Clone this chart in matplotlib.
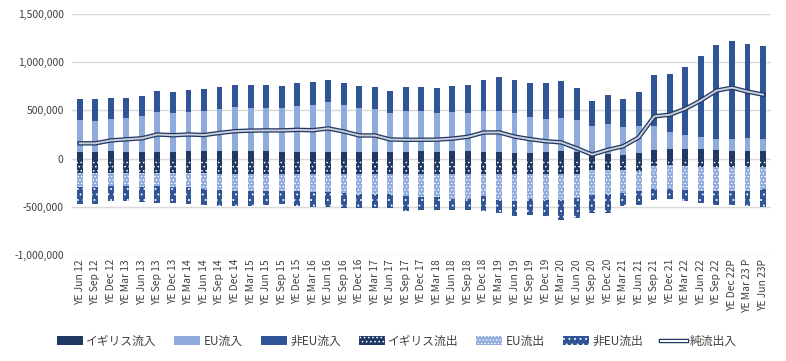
import numpy as np
import matplotlib as mpl
mpl.use("agg")
import matplotlib.pyplot as plt
from matplotlib.lines import Line2D
from matplotlib.patches import Patch
from matplotlib.ticker import FuncFormatter

plt.rcParams['font.family'] = ['Noto Sans CJK JP', 'DejaVu Sans']
plt.rcParams['hatch.linewidth'] = 0.6

labels = []
for yr in range(12, 24):
    for q in ["Mar", "Jun", "Sep", "Dec"]:
        labels.append(f"YE {q} {yr}")
labels = labels[1:46]
labels[-3] = "YE Dec 22P"
labels[-2] = "YE Mar 23 P"
labels[-1] = "YE Jun 23P"

# thousands
uk_in = [70, 70, 80, 70, 70, 70, 70, 80, 80, 80, 80, 80, 80, 70, 70, 70, 70, 70, 70, 70,
         70, 70, 80, 70, 80, 80, 70, 70, 60, 60, 70, 80, 70, 48, 48, 38, 58, 89, 99, 99,
         99, 89, 79, 79, 79]
eu_in = [329, 319, 329, 350, 370, 411, 400, 401, 411, 432, 452, 450, 450, 450, 480, 490,
         512, 482, 450, 440, 400, 420, 413, 402, 403, 392, 423, 423, 412, 371, 340, 341,
         330, 289, 309, 288, 278, 247, 175, 144, 124, 113, 123, 133, 123]
noneu_in = [223, 233, 223, 212, 213, 224, 225, 234, 234, 234, 234, 236, 236, 236, 236, 230,
            233, 234, 236, 236, 235, 258, 245, 259, 269, 290, 321, 352, 342, 352, 373, 382,
            331, 257, 299, 289, 359, 534, 606, 709, 842, 976, 1017, 976, 966]
uk_out = [155] * 9 + [160] * 24 + [124, 123, 123, 134, 82, 72, 82, 92, 92, 92, 92, 92]
eu_out = [140, 140, 130, 130, 140, 130, 140, 140, 160, 165, 175, 177, 177, 177, 177, 187,
          187, 197, 207, 207, 207, 230, 240, 243, 255, 255, 233, 268, 278, 257, 268, 268,
          247, 252, 247, 230, 208, 230, 240, 240, 250, 250, 240, 240, 220]
noneu_out = [175, 175, 155, 155, 155, 175, 171, 175, 165, 165, 157, 151, 145, 135, 155, 156,
             158, 156, 148, 148, 151, 155, 135, 132, 123, 123, 155, 141, 162, 173, 172, 213,
             214, 193, 197, 144, 141, 120, 109, 120, 120, 141, 151, 161, 191]
net = [158, 158, 188, 200, 210, 250, 242, 250, 244, 266, 284, 290, 292, 292, 298, 294,
       313, 281, 240, 240, 198, 195, 195, 196, 207, 226, 270, 272, 228, 201, 180, 168,
       107, 41, 90, 128, 220, 438, 455, 517, 603, 705, 736, 695, 664]

c_uk = "#1f3864"
c_eu = "#8faadc"
c_non = "#2f5597"
h_uk, h_eu, h_non = "....", ".....", "..."

k = 1000
uk_in = np.array(uk_in) * k
eu_in = np.array(eu_in) * k
noneu_in = np.array(noneu_in) * k
uk_out = -np.array(uk_out) * k
eu_out = -np.array(eu_out) * k
noneu_out = -np.array(noneu_out) * k
net = np.array(net) * k

x = np.arange(len(labels))
w = 0.38

fig = plt.figure(figsize=(7.86, 3.61), dpi=100)
ax = fig.add_axes([0.0916, 0.294, 0.889, 0.667])

ax.bar(x, uk_in, w, color=c_uk, zorder=2)
ax.bar(x, eu_in, w, bottom=uk_in, color=c_eu, zorder=2)
ax.bar(x, noneu_in, w, bottom=uk_in + eu_in, color=c_non, zorder=2)
ax.bar(x, uk_out, w, color=c_uk, edgecolor="white", hatch=h_uk, linewidth=0, zorder=2)
ax.bar(x, eu_out, w, bottom=uk_out, color=c_eu, edgecolor="white", hatch=h_eu, linewidth=0, zorder=2)
ax.bar(x, noneu_out, w, bottom=uk_out + eu_out, color=c_non, edgecolor="white", hatch=h_non, linewidth=0, zorder=2)

ax.plot(x, net, color=c_uk, lw=3.2, zorder=3, solid_joinstyle="round")
ax.plot(x, net, color="#c9ced8", lw=1.4, zorder=4, solid_joinstyle="round")

ax.set_xlim(-0.5, len(labels) - 0.5)
ax.set_ylim(-1000000, 1500000)
ax.set_yticks(np.arange(-1000000, 1500001, 500000))
ax.yaxis.set_major_formatter(FuncFormatter(lambda v, p: f"{int(v):,}"))
ax.grid(axis="y", color="#d9d9d9", lw=1, zorder=0)
for s in ax.spines.values():
    s.set_visible(False)
ax.tick_params(length=0, labelsize=7.5, colors="#404040")
ax.tick_params(axis="y", pad=6)
ax.set_xticks(x)
ax.set_xticklabels(labels, rotation=90, fontsize=7.4)
ax.tick_params(axis="x", pad=3)

handles = [
    Patch(facecolor=c_uk),
    Patch(facecolor=c_eu),
    Patch(facecolor=c_non),
    Patch(facecolor=c_uk, edgecolor="white", hatch=h_uk, linewidth=0),
    Patch(facecolor=c_eu, edgecolor="white", hatch=h_eu, linewidth=0),
    Patch(facecolor=c_non, edgecolor="white", hatch=h_non, linewidth=0),
    (Line2D([], [], color=c_uk, lw=3.2), Line2D([], [], color="#ffffff", lw=1.4)),
]
names = ["イギリス流入", "EU流入", "非EU流入", "イギリス流出", "EU流出", "非EU流出", "純流出入"]
fig.legend(handles, names, loc="center", bbox_to_anchor=(0.505, 0.055), ncol=7, frameon=False,
           fontsize=8.5, handlelength=2.2, handleheight=0.7, columnspacing=1.5, handletextpad=0.3,
           labelcolor="#404040")

fig.savefig("out.png", dpi=100)
